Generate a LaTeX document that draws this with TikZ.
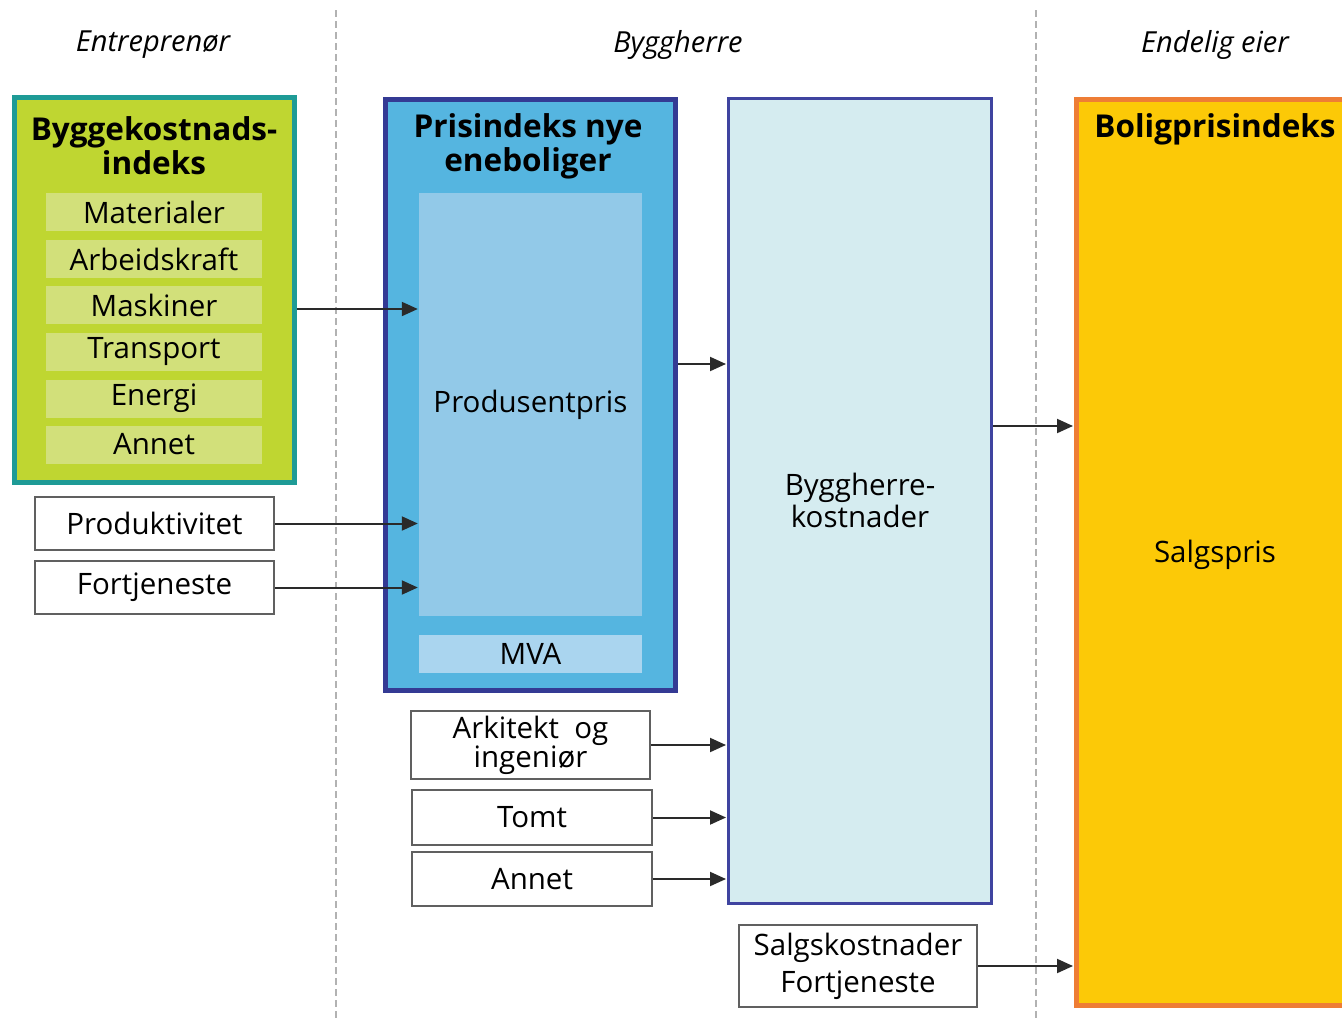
\documentclass[tikz,border=0pt]{standalone}
\usepackage{fontspec}
\setmainfont{Open Sans}
\usetikzlibrary{arrows.meta}
\definecolor{tealb}{HTML}{1E9B96}
\definecolor{limef}{HTML}{BFD631}
\definecolor{limes}{HTML}{D2E07A}
\definecolor{navyb}{HTML}{343A94}
\definecolor{bluef}{HTML}{55B5E0}
\definecolor{prodf}{HTML}{92C9E8}
\definecolor{mvaf}{HTML}{AAD5EF}
\definecolor{byggf}{HTML}{D5ECF0}
\definecolor{byggb}{HTML}{3F44A0}
\definecolor{boligf}{HTML}{FCC907}
\definecolor{boligb}{HTML}{EE7D35}
\definecolor{arrc}{HTML}{2A2A2A}
\tikzset{
  txt/.style={font=\fontsize{29.5}{32}\selectfont, align=center, inner sep=0pt},
  ttl/.style={font=\fontsize{31.5}{34}\selectfont\bfseries, align=center, inner sep=0pt},
  hdr/.style={font=\fontsize{29}{30}\selectfont\itshape, inner sep=0pt},
  subbox/.style={fill=limes, draw=none, minimum width=216pt, minimum height=38pt, txt},
  whitebox/.style={fill=white, draw=gray!75!black, line width=2pt, txt},
  arr/.style={draw=arrc, line width=2pt, -{Triangle[length=16pt,width=14pt]}, shorten >=1pt},
  divider/.style={draw=gray!60, line width=1.5pt, dash pattern=on 7pt off 4pt},
}
\begin{document}
\begin{tikzpicture}[x=1pt,y=-1pt]
\clip (0,0) rectangle (1342,1018);
\fill[white] (0,0) rectangle (1342,1018);
% dividers
\draw[divider] (336,10) -- (336,1018);
\draw[divider] (1036,10) -- (1036,1018);
% headers
\node[hdr] (h1) at (153,45) {Entreprenør};
\node[hdr] (h2) at (678,45) {Byggherre};
\node[hdr] (h3) at (1215,45) {Endelig eier};
% green box
\node[fill=limef, draw=tealb, line width=5pt, minimum width=280pt, minimum height=385pt] (green) at (154,289.5) {};
\node[ttl] (greent) at (154,146) {Byggekostnads-\\indeks};
\node[subbox] (s1) at (154,212) {Materialer};
\node[subbox] (s2) at (154,259) {Arbeidskraft};
\node[subbox] (s3) at (154,305) {Maskiner};
\node[subbox] (s4) at (154,352) {Transport};
\node[subbox] (s5) at (154,398.5) {Energi};
\node[subbox] (s6) at (154,444.5) {Annet};
% left white boxes
\node[whitebox, minimum width=239pt, minimum height=53pt] (produkt) at (154.5,523.5) {Produktivitet};
\node[whitebox, minimum width=239pt, minimum height=53pt] (fortj) at (154.5,587.5) {Fortjeneste};
% blue box
\node[fill=bluef, draw=navyb, line width=5pt, minimum width=290pt, minimum height=591pt] (blue) at (530.5,395) {};
\node[ttl] (bluet) at (528,146) {Prisindeks nye\\eneboliger};
\node[fill=prodf, draw=none, minimum width=223pt, minimum height=423pt, txt] (prod) at (530.5,404.5) {Produsentpris};
\node[fill=mvaf, draw=none, minimum width=223pt, minimum height=38pt, txt] (mva) at (530.5,654) {MVA};
% bottom white boxes
\node[whitebox, minimum width=239pt, minimum height=68pt, font=\fontsize{29.5}{29}\selectfont] (ark) at (530.5,745) {Arkitekt\ \ og\\ingeniør};
\node[whitebox, minimum width=240pt, minimum height=55pt] (tomt) at (532,817.5) {Tomt};
\node[whitebox, minimum width=240pt, minimum height=54pt] (annet) at (532,879) {Annet};
% byggherre box
\node[fill=byggf, draw=byggb, line width=3pt, minimum width=263pt, minimum height=805pt] (bygg) at (860,501) {};
\node[txt] (byggt) at (860,500) {Byggherre-\\kostnader};
\node[whitebox, minimum width=238pt, minimum height=82pt, font=\fontsize{29.5}{37}\selectfont] (salg) at (858,966) {Salgskostnader\\Fortjeneste};
% bolig box
\node[fill=boligf, draw=boligb, line width=5pt, minimum width=290pt, minimum height=906pt] (bolig) at (1221.5,552.5) {};
\node[ttl] (boligt) at (1215,129) {Boligprisindeks};
\node[txt] (salgspris) at (1215,555) {Salgspris};
% arrows
\coordinate (a1) at ([yshift=-19.5pt]green.east);
\draw[arr] (a1) -- (a1 -| prod.west);
\draw[arr] (produkt.east) -- (produkt.east -| prod.west);
\draw[arr] (fortj.east) -- (fortj.east -| prod.west);
\coordinate (a2) at ([yshift=31pt]blue.east);
\draw[arr] (a2) -- (a2 -| bygg.west);
\coordinate (a3) at ([yshift=75pt]bygg.east);
\draw[arr] (a3) -- (a3 -| bolig.west);
\draw[arr] (ark.east) -- (ark.east -| bygg.west);
\draw[arr] (tomt.east) -- (tomt.east -| bygg.west);
\draw[arr] (annet.east) -- (annet.east -| bygg.west);
\draw[arr] (salg.east) -- (salg.east -| bolig.west);
\end{tikzpicture}
\end{document}
